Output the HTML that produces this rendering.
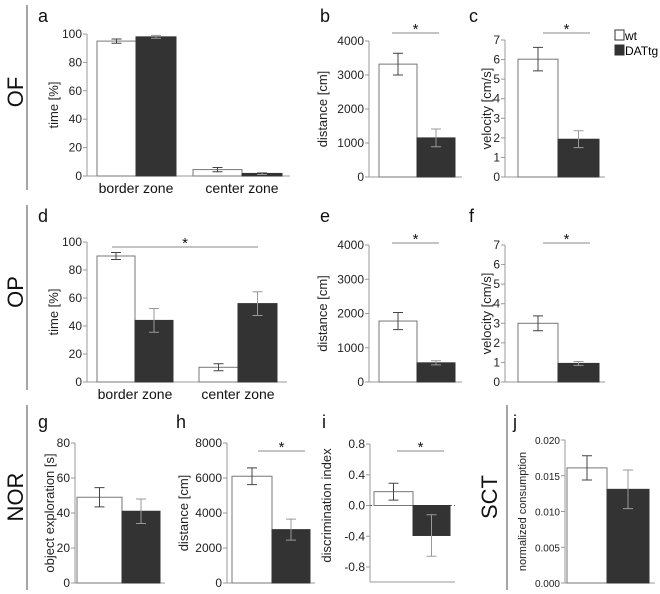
<!DOCTYPE html>
<html><head><meta charset="utf-8"><style>
body{margin:0;background:#fff}
svg{display:block;font-family:"Liberation Sans",sans-serif}
</style></head><body>
<svg id="fig" width="660" height="594" viewBox="0 0 660 594" xmlns="http://www.w3.org/2000/svg">
<g stroke="#888" stroke-width="1.5">
<line x1="27" y1="5" x2="27" y2="190"/><line x1="27" y1="205" x2="27" y2="390"/><line x1="27" y1="405" x2="27" y2="590"/><line x1="507" y1="405" x2="507" y2="590"/>
</g>
<g font-size="22" fill="#111">
<text transform="translate(23,92) rotate(-90)" text-anchor="middle">OF</text>
<text transform="translate(23,292) rotate(-90)" text-anchor="middle">OP</text>
<text transform="translate(23,497) rotate(-90)" text-anchor="middle">NOR</text>
<text transform="translate(497,497) rotate(-90)" text-anchor="middle">SCT</text>
</g>
<g font-size="12">
<rect x="615" y="30" width="9" height="10" fill="#fff" stroke="#333"/><text x="625" y="40">wt</text>
<rect x="615" y="45" width="9" height="10" fill="#333" stroke="#333"/><text x="625" y="55">DATtg</text>
</g>
</svg>
<script>
// Panel data
const aCategories=["border zone","center zone"];
const aWt=[95,4.5], aWtErr=[1.5,1.5], aTg=[98,1.8], aTgErr=[1,0.7], aTicks=[0,20,40,60,80,100];
const bWt=[3320], bWtErr=[320], bTg=[1150], bTgErr=[260], bTicks=[0,1000,2000,3000,4000];
const cWt=[6.02], cWtErr=[0.6], cTg=[1.93], cTgErr=[0.43], cTicks=[0,1,2,3,4,5,6,7];
const dCategories=["border zone","center zone"];
const dWt=[90,10.5], dWtErr=[2.5,2.5], dTg=[44,56], dTgErr=[8.5,8.5], dTicks=[0,20,40,60,80,100];
const eWt=[1780], eWtErr=[250], eTg=[560], eTgErr=[60], eTicks=[0,1000,2000,3000,4000];
const fWt=[3.0], fWtErr=[0.38], fTg=[0.95], fTgErr=[0.1], fTicks=[0,1,2,3,4,5,6,7];
const gWt=[49], gWtErr=[5.5], gTg=[41], gTgErr=[7], gTicks=[0,20,40,60,80];
const hWt=[6100], hWtErr=[480], hTg=[3050], hTgErr=[600], hTicks=[0,2000,4000,6000,8000];
const iWt=[0.18], iWtErr=[0.11], iTg=[-0.39], iTgErr=[0.27], iTicks=[-0.8,-0.4,0,0.4,0.8], iTickLabels=["-0.8","-0.4","0.0","0.4","0.8"];
const jWt=[0.0161], jWtErr=[0.0017], jTg=[0.0131], jTgErr=[0.0027], jTicks=[0,0.005,0.01,0.015,0.02], jTickLabels=["0.000","0.005","0.010","0.015","0.020"];

const NS="http://www.w3.org/2000/svg", svg=document.getElementById('fig');
function mk(tag,attrs,parent,text){const e=document.createElementNS(NS,tag);for(const k in attrs)e.setAttribute(k,attrs[k]);if(text!==undefined)e.textContent=text;parent.appendChild(e);return e;}

function panel(p){
  const g=mk('g',{},svg);
  
  
  const min=p.ticks[0],max=p.ticks[p.ticks.length-1];
  const y=v=>p.y0+(v-min)/(max-min)*(p.y1-p.y0);
  const lt=mk('text',{x:p.lx,y:p.ly,'font-size':18,fill:'#111'},g,p.id);
  
  
  const ax=mk('line',{x1:p.ax,x2:p.ax,y1:y(max),y2:p.base!==undefined?p.base:y(min),stroke:'#999','stroke-width':1},g);
  
  
  const xb=p.base!==undefined?p.base:y(min);
  const xa=mk('line',{x1:p.ax,x2:p.xend,y1:xb,y2:xb,stroke:'#999','stroke-width':1},g);
  
  
  p.ticks.forEach((t,i)=>{
    mk('line',{x1:p.ax-4,x2:p.ax,y1:y(t),y2:y(t),stroke:'#999'},g);
    const tl=mk('text',{x:p.ax-5,y:y(t)+4,'font-size':p.tfs||12,'text-anchor':'end',fill:'#222'},g,p.tickLabels?p.tickLabels[i]:String(t));
    
    
  });
  const at=mk('text',{transform:`translate(${p.titleX},${(y(min)+y(max))/2}) rotate(-90)`,'font-size':p.titleFs||13,'text-anchor':'middle',fill:'#222'},g,p.title);
  
  
  const zero=y(Math.max(min,0));
  if(p.dashZero) mk('line',{x1:p.ax,x2:p.xend,y1:zero,y2:zero,stroke:'#555','stroke-dasharray':'2,2'},g);
  p.wt.forEach((v,i)=>{
    [[v,p.wtErr[i],p.bars[i][0],p.bars[i][1],'#fff','wt'],[p.tg[i],p.tgErr[i],p.bars[i][1],p.bars[i][2],'#333','dattg']].forEach(([val,err,x0,x1,fill,s])=>{
      const top=Math.min(y(val),zero),h=Math.abs(y(val)-zero);
      const r=mk('rect',{x:x0,y:top,width:x1-x0,height:h,fill:fill,stroke:fill=='#fff'?'#777':'#333','stroke-width':1},g);
      
      
      const cx=(x0+x1)/2, col=fill=='#fff'?'#444':'#999';
      const eb=mk('path',{d:`M${cx},${y(val-err)}V${y(val+err)}M${cx-5},${y(val-err)}H${cx+5}M${cx-5},${y(val+err)}H${cx+5}`,stroke:col,'stroke-width':1,fill:'none'},g);
      
      
    });
  });
  if(p.cats) p.cats.forEach((c,i)=>{
    const cl=mk('text',{x:p.bars[i][1],y:xb+17,'font-size':14,'text-anchor':'middle',fill:'#111'},g,c);
    
    
  });
  if(p.sig){
    mk('line',{x1:p.sig[0],x2:p.sig[1],y1:p.sig[2],y2:p.sig[2],stroke:'#888'},g);
    const st=mk('text',{x:(p.sig[0]+p.sig[1])/2,y:p.sig[2]+1,'font-size':15,'text-anchor':'middle',fill:'#111'},g,'*');
    
    
  }
}
panel({id:'a',ticks:aTicks,y0:176,y1:34,ax:87,xend:290,lx:38,ly:22,title:'time [%]',titleX:58,wt:aWt,wtErr:aWtErr,tg:aTg,tgErr:aTgErr,bars:[[97,136,176],[193,242,282]],cats:aCategories});
panel({id:'b',ticks:bTicks,y0:177,y1:41,ax:369,xend:462,lx:320,ly:22,title:'distance [cm]',titleX:327,wt:bWt,wtErr:bWtErr,tg:bTg,tgErr:bTgErr,bars:[[379,417,455]],sig:[392,439,33]});
panel({id:'c',ticks:cTicks,y0:177,y1:40,ax:505,xend:605,lx:469,ly:22,title:'velocity [cm/s]',titleX:491,wt:cWt,wtErr:cWtErr,tg:cTg,tgErr:cTgErr,bars:[[518,558,599]],sig:[543,590,33]});
panel({id:'d',ticks:dTicks,y0:382,y1:242,ax:87,xend:287,lx:38,ly:222,title:'time [%]',titleX:58,wt:dWt,wtErr:dWtErr,tg:dTg,tgErr:dTgErr,bars:[[97,135,173],[199,238,277]],cats:dCategories,sig:[112,258,247]});
panel({id:'e',ticks:eTicks,y0:382,y1:245,ax:369,xend:462,lx:320,ly:222,title:'distance [cm]',titleX:327,wt:eWt,wtErr:eWtErr,tg:eTg,tgErr:eTgErr,bars:[[379,417,455]],sig:[392,439,243]});
panel({id:'f',ticks:fTicks,y0:382,y1:245,ax:505,xend:605,lx:469,ly:222,title:'velocity [cm/s]',titleX:491,wt:fWt,wtErr:fWtErr,tg:fTg,tgErr:fTgErr,bars:[[518,558,599]],sig:[543,590,243]});
panel({id:'g',ticks:gTicks,y0:583,y1:443,ax:75,xend:165,lx:38,ly:428,title:'object exploration [s]',titleX:54,wt:gWt,wtErr:gWtErr,tg:gTg,tgErr:gTgErr,bars:[[77,122,160]]});
panel({id:'h',ticks:hTicks,y0:583,y1:443,ax:227,xend:315,lx:176,ly:428,title:'distance [cm]',titleX:188,wt:hWt,wtErr:hWtErr,tg:hTg,tgErr:hTgErr,bars:[[232,272,310]],sig:[258,305,451]});
panel({id:'i',ticks:iTicks,tickLabels:iTickLabels,y0:567,y1:444,ax:370,xend:455,base:582,dashZero:true,lx:322,ly:428,title:'discrimination index',titleX:331,wt:iWt,wtErr:iWtErr,tg:iTg,tgErr:iTgErr,bars:[[374,413,450]],sig:[397,444,451]});
panel({id:'j',ticks:jTicks,tickLabels:jTickLabels,tfs:10,y0:583,y1:440,ax:565,xend:655,lx:513,ly:428,title:'normalized consumption',titleFs:11,titleX:526,wt:jWt,wtErr:jWtErr,tg:jTg,tgErr:jTgErr,bars:[[567,607,649]]});
</script>
</body></html>
